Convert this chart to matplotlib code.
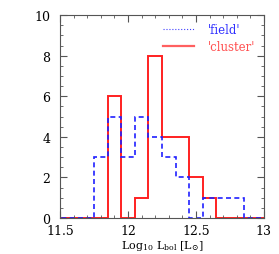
import matplotlib
matplotlib.use("Agg")
import matplotlib.pyplot as plt
import numpy as np
from matplotlib.ticker import MultipleLocator
from matplotlib.lines import Line2D

plt.rcParams['font.family'] = ['DejaVu Serif']
plt.rcParams['mathtext.fontset'] = 'dejavuserif'

bin_centers = [11.5, 11.6, 11.7, 11.8, 11.9, 12.0, 12.1, 12.2, 12.3, 12.4, 12.5, 12.6, 12.7, 12.8, 12.9, 13.0]
field = [0, 0, 0, 3, 5, 3, 5, 4, 3, 2, 0, 1, 1, 1, 0, 0]
cluster = [0, 0, 0, 0, 6, 0, 1, 8, 4, 4, 2, 1, 0, 0, 0, 0]

centers = np.array(bin_centers)
edges = np.concatenate([centers - 0.05, [centers[-1] + 0.05]])

fig = plt.figure(figsize=(2.79, 2.55), dpi=100)
ax = fig.add_axes([0.215, 0.141, 0.731, 0.796])

ax.stairs(cluster, edges, color='#ff2020', lw=1.4)
ax.stairs(field, edges, color='#2020ff', lw=1.2, linestyle=(0, (3, 2)))

ax.set_xlim(11.5, 13)
ax.set_ylim(0, 10)
ax.xaxis.set_major_locator(MultipleLocator(0.5))
ax.xaxis.set_minor_locator(MultipleLocator(0.1))
ax.yaxis.set_major_locator(MultipleLocator(2))
ax.yaxis.set_minor_locator(MultipleLocator(0.5))
ax.tick_params(which='both', direction='in', top=True, right=True, labelsize=9, color='#555555')
ax.tick_params(which='major', length=5, width=0.8)
ax.tick_params(which='minor', length=2.5, width=0.6)
ax.tick_params(axis='x', which='major', pad=4)
ax.tick_params(axis='y', which='major', pad=7)
ax.set_xticks([11.5, 12, 12.5, 13])
ax.set_xticklabels(['11.5', '12', '12.5', '13'])
for s in ax.spines.values():
    s.set_color('#555555')
    s.set_linewidth(0.8)

ax.set_xlabel(r'Log$_{10}$ L$_{\rm bol}$ [L$_{\odot}$]', fontsize=8, va='center')
ax.xaxis.set_label_coords(0.5, -0.135)

handles = [Line2D([], [], color='#4040ff', lw=0.8, linestyle=':'),
           Line2D([], [], color='#ff6060', lw=1.6)]
leg = ax.legend(handles, ["'field'", "'cluster'"], loc='upper right', frameon=False,
                fontsize=8.5, handlelength=2.6, handletextpad=1.2, labelspacing=0.3,
                borderaxespad=0.3)
for t, c in zip(leg.get_texts(), ['#3030ff', '#ff5050']):
    t.set_color(c)

fig.savefig('out.png', dpi=100)
